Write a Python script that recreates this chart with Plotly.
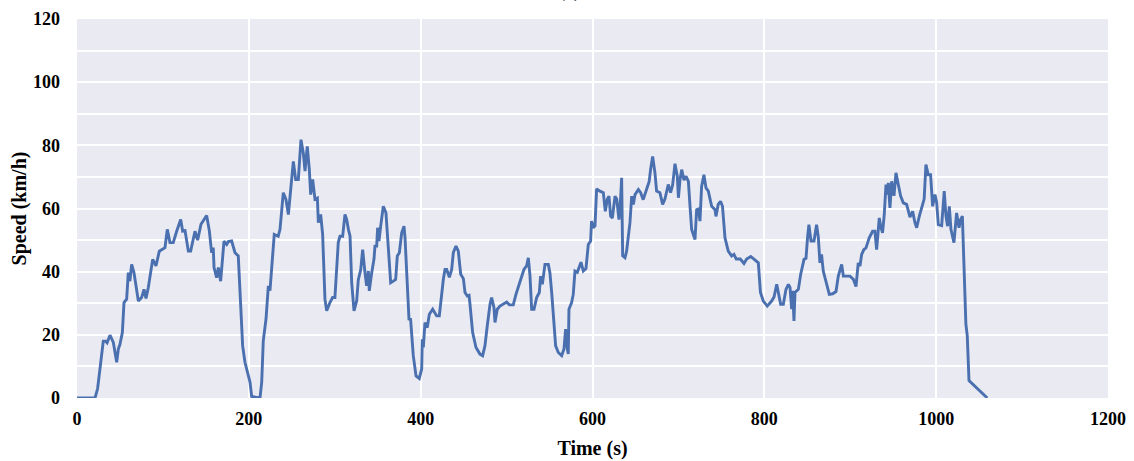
import plotly.graph_objects as go

time_s = [0, 21, 24, 27, 30.6, 33.3, 35, 38.4, 42.3, 46.2, 48.1, 50, 52.8, 54.7, 57.8, 59.7, 61.6, 63.6, 66.3,
          71.4, 75.2, 78, 80.3, 83, 88.1, 91.9, 95.8, 102.4, 105.1, 108.2, 112, 116, 120.7, 123, 125.7, 129.6,
          132.3, 137.3, 140.4, 144.3, 150.9, 154, 156.7, 158.6, 159.5, 162.5, 164.5, 167.2, 168.4, 171.1, 174.2,
          176.1, 180, 183.9, 187.7, 190.5, 192.8, 195.5, 199, 201.4, 203.3, 213, 215, 216.8, 220, 222.7, 224.6,
          227.7, 229.6, 234.2, 236.3, 240.1, 243.2, 246, 248, 251.8, 254.5, 257.6, 260.7, 263.4, 265.4, 268,
          270.4, 272, 274.3, 277, 279.8, 280.9, 283.6, 285.9, 288.6, 290.6, 294.4, 297.5, 300.2, 301.4, 304.1,
          306.1, 309.2, 311.9, 313.9, 315.9, 317.8, 319.7, 322.4, 325.5, 327.4, 330.2, 332.5, 335.2, 337.1,
          339.1, 340.2, 343, 345.7, 346.8, 348.8, 349.9, 351.5, 353.5, 356.5, 359.6, 362.3, 365.1, 368.2, 370.9,
          372.8, 375.2, 377.9, 380.6, 381.8, 383.7, 386.4, 388.3, 391.4, 394.6, 398.4, 401.2, 401.9, 403.1, 405,
          407.7, 410.1, 414, 418.6, 421.7, 424.5, 426.4, 428.3, 430.3, 433.4, 436.1, 438, 441.1, 443.8, 446.6,
          449.7, 451.6, 454.3, 456.3, 457.4, 460.5, 464.4, 469, 472.1, 474.8, 477.5, 480.7, 482.6, 485.3, 486.5,
          489.2, 492.3, 500.1, 503.2, 507.8, 510.9, 516.3, 520.2, 523.3, 525.3, 527.2, 529.2, 531.9, 535, 538.1,
          539.6, 541.6, 544.7, 548.6, 550.5, 552.5, 554.4, 557.1, 560.2, 564.1, 566.8, 568.7, 570.7, 571.8, 572.6,
          575.7, 577.6, 579.6, 582.3, 584, 586.6, 589.3, 592.4, 595.1, 597.8, 598.9, 600.9, 602.9, 604.8, 608.7,
          612.6, 614.9, 617.3, 619.2, 621.1, 623.1, 626.2, 628.2, 630.8, 632.7, 633.9, 635.1, 637.8, 639.7, 641.7,
          643.6, 645.6, 647.5, 649.5, 653.4, 656.1, 659, 662.9, 666, 667.6, 670, 672.7, 674.6, 678.5, 681.6, 684.3,
          688.2, 690.9, 693.3, 696, 698.7, 700, 701.9, 703.8, 706.5, 708.9, 711.6, 713.5, 715.4, 719.3, 721.2,
          723.1, 725.1, 727, 729.7, 732.1, 734.8, 738.7, 742.6, 743.7, 746.3, 749, 751.3, 754.2, 758, 761.9, 764.6,
          767.3, 772, 776.3, 779.4, 784.2, 789.1, 793, 795.5, 798.8, 803.4, 808.5, 811.3, 814.4, 816.3, 819, 822.1,
          825.2, 828, 829.9, 831.8, 833, 834.5, 835.7, 839.6, 842.3, 846.2, 848.5, 850.4, 851.9, 854.3, 857.8,
          860.8, 862.8, 864.7, 866.6, 868.6, 871.7, 875.6, 879.5, 883.4, 886.1, 890, 892, 895.8, 899.7, 903.6,
          906.7, 909.3, 911.3, 913.3, 915.9, 918.3, 922.1, 926, 928.7, 930.7, 933.8, 935.4, 937.6, 939.6, 941.6,
          943.2, 944.3, 946.2, 948.2, 950.9, 953.2, 955.9, 958.6, 961.7, 965.6, 969.5, 972.6, 975.3, 977.3, 980.4,
          984.1, 986, 988.1, 990.8, 993.5, 995.9, 998.6, 1000.6, 1002.5, 1006.4, 1009.4, 1011.4, 1013.3, 1015.3,
          1017.2, 1020.7, 1021.9, 1023.8, 1026.6, 1028.5, 1030.5, 1031.3, 1032.5, 1034.6, 1036.2, 1038.2, 1059.5]

speed_kmh = [0, 0, 3, 10, 18, 18, 17.5, 19.9, 17.6, 11.3, 15.5, 17, 20.7, 30.2, 31.3, 39.7, 37, 42.3, 39.7,
             30.7, 31.8, 34.4, 31.5, 35, 43.9, 41.8, 46.5, 47.6, 53.4, 49.2, 49.2, 52.8, 56.5, 52.8, 53, 46.5,
             46.5, 52.8, 50, 55, 57.8, 53, 46, 47.6, 41.3, 38.1, 41.3, 37, 42, 49.7, 48.6,
             49.5, 49.7, 46, 45, 29.1, 16.5, 11.3, 8, 5, 0.5, 0, 5, 18.1, 25, 35.5, 34,
             43.9, 51.8, 51.2, 53.4, 65, 62.9, 58.1, 63.9, 74.9, 69.2, 69.2, 81.8, 77.6, 71.8, 79.7,
             72.3, 64.4, 69.2, 62.9, 63.3, 55.5, 58.1, 51.8, 31.3, 27.6, 30.2, 31.8, 31.8, 37.6, 49.2,
             51.2, 51.2, 58.1, 56.5, 53.4, 51.2, 36.5, 27.6, 30.7, 37.4, 40.6, 47, 39.6, 35.5,
             40.2, 33.9, 39.6, 44, 48.1, 48.1, 53.9, 49.7, 54.5, 60.7, 58.6, 46, 36.5, 37, 37.5,
             45, 46, 52.3, 54.4, 50.7, 39.7, 25, 24.9, 13.4, 7, 6.2, 9.2, 18.6, 16, 23.9,
             22.3, 26.5, 28.1, 26, 26, 33.4, 37.6, 40.7, 40.7, 38.2, 40.7, 46, 48.1, 46.5, 39.2,
             37.8, 33.4, 32.3, 32.5, 29.7, 20.7, 16, 13.9, 13.4, 16.5, 22.8, 29.7, 31.8, 28.7, 23.9,
             28.1, 29.1, 30.4, 29.5, 29.5, 32.8, 37.6, 40.7, 41.8, 44.4, 38.9, 28.1, 28.1, 31.8, 33.4,
             38.6, 36, 42.3, 42.3, 39.5, 33.4, 25, 16.5, 14.4, 13.4, 15.5, 21.8, 15.5, 13.9, 28.1,
             30.2, 32.8, 40.2, 39.8, 41, 43, 40.2, 41, 48.6, 49.7, 56, 53.9, 54.5, 66.2, 65.5,
             65, 59.1, 63, 63.9, 57.6, 57, 63.9, 63, 56.5, 63, 69.7, 45, 44.4, 46.5, 51.2,
             55.5, 63.9, 61.3, 64.4, 66, 65, 62.8, 66, 68.6, 72.3, 76.5, 71.3, 65.5, 65, 61.3, 63,
             67.6, 65, 67.5, 74.2, 70.2, 63.4, 69.2, 72.3, 69, 70.2, 68.6, 60.7, 53.4, 50.2, 59.6,
             59.8, 56, 67, 70.7, 66.5, 65.5, 60.7, 59.6, 57.5, 61.3, 62.3, 60.7, 50.7, 46.5, 45, 45.5,
             44, 44, 42.6, 44, 44.8, 43.7, 42.8, 33.4, 30.7, 29.1, 30.7, 32, 36, 33.4, 29.7, 29.7,
             34.4, 36, 35, 28.1, 33.9, 24.4, 33.4, 34.4, 39.2, 43.9, 44.2, 51.2, 54.9, 49.7, 49.7,
             54.9, 51, 42.8, 45.5, 40.2, 37.1, 32.8, 33, 33.7, 38.6, 42.3, 38.6, 38.6, 38.6, 37.6,
             35.3, 42.8, 41.8, 45.5, 47, 47.5, 50.7, 52.8, 52.8, 47, 57, 54.4, 52.3, 58.1, 67.6,
             64.4, 68.1, 60.2, 68.6, 64, 71.3, 67.6, 64, 61.8, 61.3, 57.3, 59.1, 55.5, 53.9, 57.6,
             61.3, 63, 73.9, 70.7, 70.7, 60.7, 64.4, 61.8, 54.9, 54.6, 65.5, 57.6, 54.4, 60.7,
             53.4, 49.2, 52.8, 58.6, 53.9, 56.5, 57.6, 51.2, 37, 23.4, 19.7, 5.5, 0]

x_ticks = [0, 200, 400, 600, 800, 1000, 1200]
y_ticks = [0, 20, 40, 60, 80, 100, 120]

font_family = "Liberation Serif, Times New Roman, serif"

fig = go.Figure()
fig.add_trace(go.Scatter(
    x=time_s, y=speed_kmh, mode="lines",
    line=dict(color="#4A70B0", width=2.9),
    showlegend=False,
))

fig.update_layout(
    width=1134, height=461,
    margin=dict(l=77, r=26, t=19, b=63),
    paper_bgcolor="white",
    plot_bgcolor="#EAEAF2",
    font=dict(family=font_family, size=17, color="black", weight="bold"),
)
fig.add_annotation(
    text="(a)", xref="paper", yref="paper", x=0.478, y=1, yanchor="bottom",
    yshift=15, showarrow=False,
    font=dict(family=font_family, size=18, color="black", weight="bold"),
)
fig.update_xaxes(
    range=[0, 1200], tickvals=x_ticks, ticktext=[str(v) for v in x_ticks],
    showgrid=True, gridcolor="white", gridwidth=1.5, zeroline=False,
    showline=False, ticks="", ticklabelstandoff=8, automargin=False,
    tickfont=dict(size=18),
    title=dict(text="Time (s)", font=dict(family=font_family, size=20, weight="bold"), standoff=12),
)
fig.update_yaxes(
    range=[0, 120], tickvals=y_ticks, ticktext=[str(v) for v in y_ticks],
    showgrid=True, gridcolor="white", gridwidth=1.5, zeroline=False,
    showline=False, ticks="", ticklabelstandoff=16, automargin=False,
    tickfont=dict(size=18),
    minor=dict(dtick=10, showgrid=True, gridcolor="white", gridwidth=1.5),
    title=dict(text="Speed (km/h)", font=dict(family=font_family, size=20, weight="bold"), standoff=1),
)

fig.write_html(
    "out.html",
    config={"displayModeBar": False},
    post_script="document.body.style.margin='0';document.body.style.overflow='hidden';",
)
